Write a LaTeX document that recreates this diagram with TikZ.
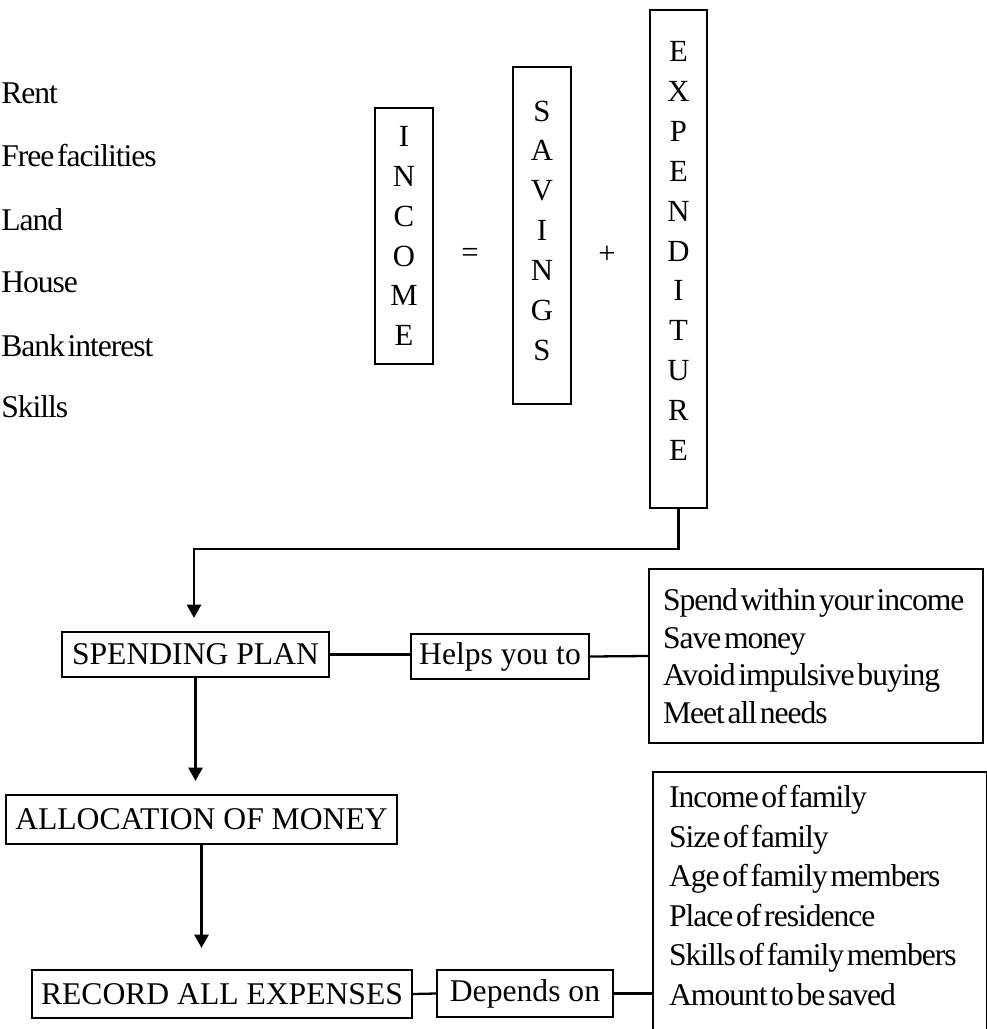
\documentclass[tikz,border=0pt]{standalone}
\usepackage{fontspec}
\setmainfont{Liberation Serif}
\newfontfamily\tightserif{Liberation Serif}[LetterSpace=-3.3,WordSpace=0.4]
\usetikzlibrary{arrows.meta,positioning}
\tikzset{
    box/.style =    {rectangle,
                    draw=black,
                    text=black,
                    line width=1.3pt,
                    inner sep=0pt,
                    font=\fontsize{18}{21}\selectfont},
    letters/.style = {rectangle,
                    draw=black,
                    text=black,
                    line width=1.3pt,
                    inner sep=0pt,
                    align=center,
                    font=\fontsize{17.5}{22.7}\selectfont},
    listbox/.style = {rectangle,
                    draw=black,
                    text=black,
                    line width=1.3pt,
                    align=flush left,
                    inner ysep=0pt,
                    font=\tightserif\fontsize{18}{21.4}\selectfont},
    item/.style =   {anchor=base west,
                    inner sep=0pt,
                    text=black,
                    font=\tightserif\fontsize{18}{21}\selectfont},
    sign/.style =   {inner sep=0pt,
                    text=black,
                    font=\fontsize{17.5}{20}\selectfont},
    line/.style =   {line width=1.3pt, draw=black},
    >={Triangle[width=8pt,length=7.5pt]}}
\begin{document}
\begin{tikzpicture}[x=0.02cm, y=-0.02cm]
    \useasboundingbox (0,0) rectangle (987,1029);
    \coordinate (floor) at (0,1029);

    % sources of income
    \node[item] (rent)  at (1,103) {Rent};
    \node[item] (free)  at (1,166) {Free facilities};
    \node[item] (land)  at (1,230) {Land};
    \node[item] (house) at (1,292) {House};
    \node[item] (bank)  at (1,356) {Bank interest};
    \node[item] (skill) at (1,417) {Skills};

    % income = savings + expenditure
    \node[letters, minimum width=1.16cm, minimum height=5.12cm]
        (income) at (404,236) {I\\N\\C\\O\\M\\E};
    \node[sign] (eq) at (470,255) {=};
    \node[letters, minimum width=1.16cm, minimum height=6.74cm]
        (savings) at (542,235.5) {S\\A\\V\\I\\N\\G\\S\rule[-0.2cm]{0pt}{0.2cm}};
    \node[sign] (plus) at (607,255) {+};
    \node[letters, minimum width=1.14cm, minimum height=9.96cm]
        (expend) at (678.5,259) {E\\X\\P\\E\\N\\D\\I\\T\\U\\R\\E\rule[-0.32cm]{0pt}{0.32cm}};

    % flow
    \node[box, minimum width=5.34cm, minimum height=0.9cm]
        (spend) at (195.5,654.5) {SPENDING PLAN};
    \node[box, minimum width=3.56cm, minimum height=0.9cm]
        (helps) at (500,656.5) {Helps you to};
    \node[listbox, inner xsep=0.28cm, text width=6.12cm, minimum height=3.48cm]
        (helplist) at (816,656) {Spend within your income\\Save money\\Avoid impulsive buying\\Meet all needs};
    \node[box, minimum width=7.82cm, minimum height=0.98cm]
        (alloc) at (201.5,819.5) {ALLOCATION OF MONEY};
    \node[box, minimum width=7.6cm, minimum height=0.96cm]
        (record) at (222,994) {RECORD ALL EXPENSES};
    \node[box, minimum width=3.52cm, minimum height=0.94cm]
        (depends) at (525,993.5) {Depends on};
    \node[listbox, draw=none, anchor=north west, inner xsep=0.3cm, inner ysep=7pt,
        text width=6.04cm, font=\tightserif\fontsize{18}{22.5}\selectfont]
        (deplist) at (653,772) {Income of family\\Size of family\\Age of family members\\Place of residence\\Skills of family members\\Amount to be saved};
    \draw[line] (deplist.north west |- floor) -- (deplist.north west)
        -- (deplist.north east) -- (deplist.north east |- floor);

    \coordinate (bend) at (194,549);
    \draw[line,->,shorten >=0.26cm] (expend.south) |- (bend) -- (bend |- spend.north);
    \draw[line,->,shorten >=0.26cm] (spend.south) -- (spend.south |- alloc.north);
    \draw[line,->,shorten >=0.42cm] (alloc.south) -- (alloc.south |- record.north);
    \path [line] (spend.east)   edge [] (spend.east -| helps.west)
                 (helps.east)   edge [] (helplist.west)
                 (record.east)  edge [] (depends.west)
                 (depends.east) edge [] (depends.east -| deplist.west);
\end{tikzpicture}
\end{document}
